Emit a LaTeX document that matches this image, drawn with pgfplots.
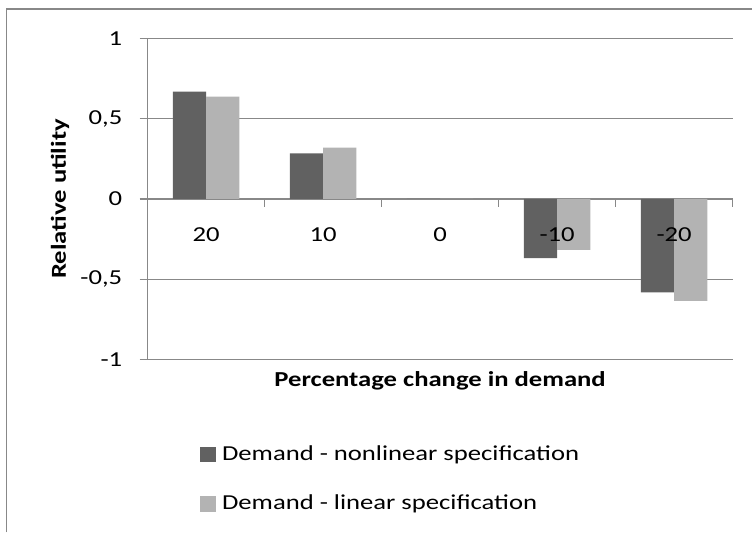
\documentclass[border=0pt]{standalone}
\usepackage{pgfplots}
\pgfplotsset{compat=1.18}
\usepackage{fontspec}
\setmainfont{Carlito}[FakeStretch=1.25]
\definecolor{darkbar}{HTML}{616161}
\definecolor{lightbar}{HTML}{B3B3B3}
\definecolor{gridc}{HTML}{888888}
\pgfplotsset{
  common/.style={
    at={(110.8pt,129.75pt)}, anchor=south west,
    scale only axis, width=439.2pt, height=241.3pt,
    xmin=-0.5, xmax=4.5, ymin=-1, ymax=1,
  },
}
\begin{document}
\fontsize{16}{19}\selectfont
\begin{tikzpicture}
\path (0,0) rectangle (564.75pt,399.75pt);
\draw[gridc, line width=1.1pt] (5pt,0) -- (5pt,393pt) -- (564.75pt,393pt);
% grid lines, zero line and category separators (behind bars)
\begin{axis}[
  common,
  axis line style={draw=none},
  xtick=\empty,
  ytick={-1,-0.5,0,0.5,1}, yticklabels={},
  major tick length=0pt,
  ymajorgrids, grid style={gridc, line width=0.9pt},
  clip=false,
]
\addplot[draw=none, forget plot] coordinates {(-0.5,0) (4.5,0)};
\pgfplotsinvokeforeach{-0.5,0.5,1.5,2.5,3.5,4.5}{
  \draw[gridc, line width=0.9pt] (axis cs:#1,0) -- ++(0pt,-6pt);
}
\end{axis}
% bars, y axis and labels on top
\begin{axis}[
  common,
  axis on top,
  ybar=0pt, bar width=25pt,
  axis x line=bottom, axis y line=left,
  axis line style={gridc, line width=0.9pt, -},
  x axis line style={draw=none},
  xtick={0,1,2,3,4}, xticklabels={20,10,0,-10,-20},
  ytick={-1,-0.5,0,0.5,1}, yticklabels={{-1},{-0,5},{0},{0,5},{1}},
  xtick align=inside, ytick align=outside, major tick length=6pt,
  major x tick style={draw=none},
  major y tick style={gridc, line width=0.9pt},
  xticklabel style={anchor=center, yshift=94.1pt, font=\fontsize{16}{19}\selectfont},
  yticklabel style={xshift=-7.5pt, font=\fontsize{16}{19}\selectfont},
  xlabel={\textbf{Percentage change in demand}},
  ylabel={\textbf{Relative utility}},
  xlabel style={at={(axis description cs:0.5,0)}, anchor=center, yshift=-15.75pt, font=\fontsize{16}{19}\selectfont},
  ylabel style={at={(axis description cs:-0.1498,0.5)}, anchor=center, font=\fontsize{16}{19}\selectfont},
  legend style={draw=none, fill=none, at={(0.0893,-0.258)}, anchor=north west,
    legend cell align=left, row sep=19.5pt, font=\fontsize{16}{19}\selectfont,
    inner sep=0pt},
]
\addplot[fill=darkbar, draw=none, legend image code/.code={\fill[darkbar] (0pt,-6pt) rectangle (12pt,6pt); \path (14.5pt,0pt);}]
  coordinates {(0,0.668) (1,0.284) (2,0) (3,-0.369) (4,-0.581)};
\addplot[fill=lightbar, draw=none, legend image code/.code={\fill[lightbar] (0pt,-6pt) rectangle (12pt,6pt); \path (14.5pt,0pt);}]
  coordinates {(0,0.637) (1,0.319) (2,0) (3,-0.317) (4,-0.635)};
\legend{Demand - nonlinear specification, Demand - linear specification}
\end{axis}
\end{tikzpicture}
\end{document}
